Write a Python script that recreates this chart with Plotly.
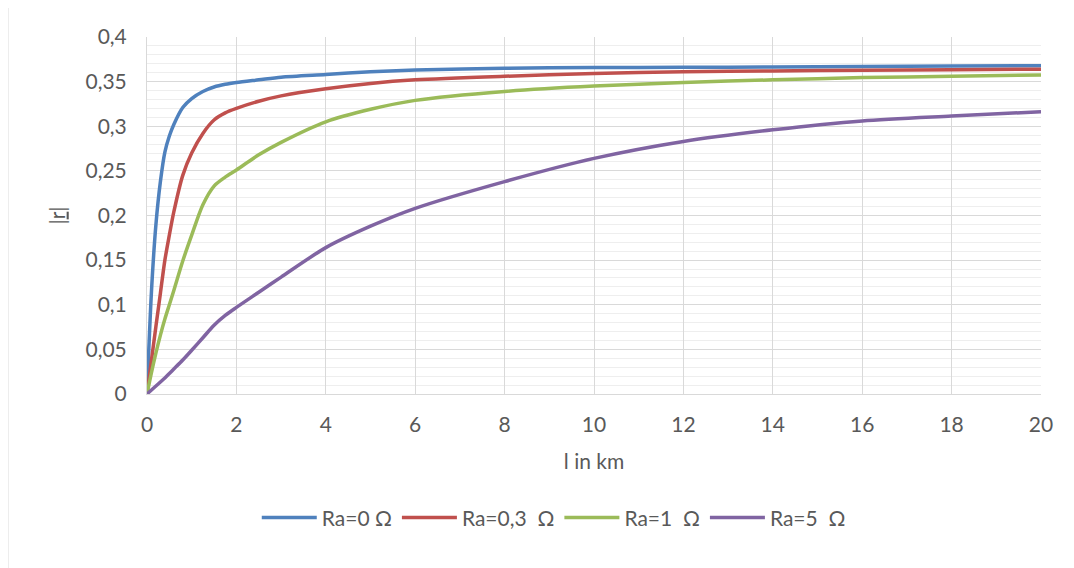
import plotly.graph_objects as go

# Länge der Leitung in km
l_km = [0, 0.1, 0.2, 0.3, 0.4, 0.5, 0.6, 0.8, 1.0, 1.25, 1.5, 1.75, 2, 2.5, 3,
        4, 5, 6, 8, 10, 12, 14, 16, 18, 20]

# |r| für verschiedene Ra
r_ra0 = [0, 0.115, 0.19, 0.238, 0.271, 0.289, 0.302, 0.321, 0.331, 0.339, 0.344,
         0.347, 0.349, 0.352, 0.355, 0.358, 0.361, 0.363, 0.365, 0.3657, 0.366,
         0.3665, 0.367, 0.3675, 0.3678]
r_ra03 = [0, 0.038, 0.076, 0.113, 0.15, 0.178, 0.204, 0.245, 0.27, 0.292, 0.307,
          0.315, 0.320, 0.328, 0.334, 0.342, 0.348, 0.352, 0.356, 0.359, 0.361,
          0.362, 0.3628, 0.3634, 0.364]
r_ra1 = [0, 0.024, 0.046, 0.066, 0.084, 0.10, 0.116, 0.149, 0.178, 0.212, 0.233,
         0.243, 0.251, 0.268, 0.282, 0.305, 0.319, 0.329, 0.339, 0.345, 0.349,
         0.352, 0.3545, 0.356, 0.3574]
r_ra5 = [0, 0.0045, 0.009, 0.0135, 0.018, 0.023, 0.028, 0.038, 0.049, 0.063, 0.077,
         0.088, 0.097, 0.114, 0.131, 0.164, 0.188, 0.208, 0.238, 0.264, 0.283,
         0.296, 0.306, 0.3115, 0.3163]

namen = ["Ra=0 Ω", "Ra=0,3  Ω", "Ra=1  Ω", "Ra=5  Ω"]
farben = ["#4F81BD", "#C0504D", "#9BBB59", "#8064A2"]

y_ticks = [0, 0.05, 0.1, 0.15, 0.2, 0.25, 0.3, 0.35, 0.4]
y_labels = ["0", "0,05", "0,1", "0,15", "0,2", "0,25", "0,3", "0,35", "0,4"]
x_ticks = [0, 2, 4, 6, 8, 10, 12, 14, 16, 18, 20]

fig = go.Figure()
for werte, name, farbe in zip([r_ra0, r_ra03, r_ra1, r_ra5], namen, farben):
    fig.add_trace(go.Scatter(x=l_km, y=werte, name=name, mode="lines",
                             line=dict(color=farbe, width=3.5, shape="spline",
                                       smoothing=0.8)))

grau = "#595959"
# Seite hat 8px Rand (body margin), daher Ränder etwas kleiner
fig.update_layout(
    width=1074, height=568,
    margin=dict(l=139, r=41, t=29, b=182),
    paper_bgcolor="white", plot_bgcolor="white",
    font=dict(family="Lato", size=21, color=grau),
    showlegend=True,
    legend=dict(orientation="h", x=0.455, xanchor="center", y=-0.347, yanchor="middle",
                itemwidth=55, font=dict(size=21, color=grau)),
    xaxis=dict(range=[0, 20], tickvals=x_ticks, showgrid=True,
               gridcolor="#d9d9d9", gridwidth=1, zeroline=False,
               showline=True, linecolor="#d9d9d9", ticks="", ticklabelstandoff=12,
               title=dict(text="l in km", font=dict(size=21, color=grau), standoff=19)),
    yaxis=dict(range=[0, 0.4], tickvals=y_ticks, ticktext=y_labels, showgrid=True,
               gridcolor="#d9d9d9", gridwidth=1, zeroline=False,
               showline=True, linecolor="#d9d9d9", ticks="", ticklabelstandoff=15,
               minor=dict(dtick=0.01, showgrid=True, gridcolor="#eeeeee", gridwidth=1),
               title=dict(text='|<span style="text-decoration:underline">r</span>|',
                          font=dict(size=21, color=grau), standoff=14)),
    shapes=[dict(type="rect", xref="paper", yref="paper",
                 x0=-0.1555, x1=1.2, y0=-0.8, y1=1.0868,
                 line=dict(color="#d9d9d9", width=1), layer="below")],
)

fig.write_html("out.html")
